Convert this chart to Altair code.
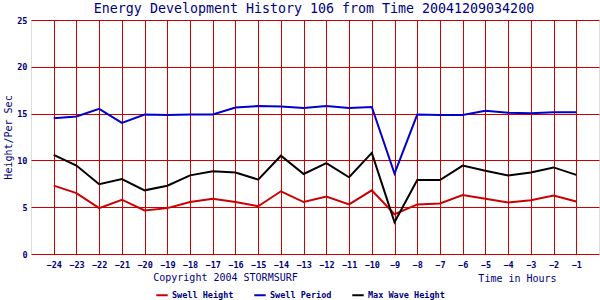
import altair as alt
import pandas as pd

hours = [-24, -23, -22, -21, -20, -19, -18, -17, -16, -15, -14, -13,
         -12, -11, -10, -9, -8, -7, -6, -5, -4, -3, -2, -1]
swell_height = [7.3, 6.5, 4.9, 5.8, 4.65, 4.9, 5.55, 5.9, 5.55, 5.1, 6.7, 5.55,
                6.15, 5.3, 6.8, 4.25, 5.3, 5.4, 6.3, 5.9, 5.5, 5.75, 6.25, 5.6]
swell_period = [14.5, 14.7, 15.5, 14.0, 14.9, 14.85, 14.9, 14.9, 15.65, 15.8, 15.75, 15.6,
                15.8, 15.6, 15.7, 8.6, 14.9, 14.85, 14.85, 15.3, 15.1, 15.05, 15.15, 15.15]
max_wave = [10.6, 9.45, 7.45, 8.0, 6.8, 7.3, 8.4, 8.85, 8.7, 7.95, 10.5, 8.55,
            9.7, 8.2, 10.8, 3.4, 7.9, 7.9, 9.45, 8.9, 8.4, 8.7, 9.25, 8.45]
series_names = ["Swell Height", "Swell Period", "Max Wave Height"]
series_colors = ["#cc0000", "#0000cc", "#000000"]
x_ticks = list(range(-24, 0))
y_ticks = [0, 5, 10, 15, 20, 25]
title_text = "Energy Development History 106 from Time 20041209034200"
copyright_str = "Copyright 2004 STORMSURF"

rows = []
for name, vals in zip(series_names, [swell_height, swell_period, max_wave]):
    for h, v in zip(hours, vals):
        rows.append({"hour": h, "value": v, "series": name})
df = pd.DataFrame(rows)

NAVY = "#000080"
GRID = "#cc0000"
MONO = "DejaVu Sans Mono"

lines = alt.Chart(df).mark_line(strokeWidth=2, clip=True).encode(
    x=alt.X("hour:Q",
            scale=alt.Scale(domain=[-25, 0], nice=False, zero=False),
            axis=alt.Axis(values=x_ticks, grid=True, gridColor=GRID, gridWidth=1, gridOpacity=1,
                          domain=False, ticks=False, labelFont=MONO, labelFontSize=8.5,
                          labelFontWeight="bold", labelColor=NAVY, labelPadding=6,
                          labelOverlap=False, labelFlush=False,
                          title="Time in Hours", titleFont=MONO, titleFontSize=10,
                          titleFontWeight="normal", titleColor=NAVY,
                          titleX=486, titleY=27, titleAlign="center",
                          titleBaseline="alphabetic")),
    y=alt.Y("value:Q",
            scale=alt.Scale(domain=[0, 25], nice=False),
            axis=alt.Axis(values=y_ticks, grid=True, gridColor=GRID, gridWidth=1, gridOpacity=1,
                          domain=False, ticks=False, labelFont=MONO, labelFontSize=8.5,
                          labelFontWeight="bold", labelColor=NAVY, labelPadding=4,
                          title="Height/Per Sec", titleFont=MONO, titleFontSize=10,
                          titleFontWeight="normal", titleColor=NAVY, titlePadding=3)),
    color=alt.Color("series:N",
                    scale=alt.Scale(domain=series_names, range=series_colors),
                    legend=alt.Legend(orient="none", direction="horizontal",
                                      legendX=124, legendY=268, title=None,
                                      symbolType="stroke", symbolSize=130,
                                      symbolStrokeWidth=3, labelFont=MONO,
                                      labelFontSize=8.5, labelFontWeight="bold",
                                      labelColor=NAVY, labelOffset=3,
                                      columnPadding=16, padding=0)),
    strokeWidth=alt.StrokeWidth("series:N",
                                scale=alt.Scale(domain=series_names, range=[2, 2, 1.5]),
                                legend=None),
)

copyright_mark = alt.Chart(alt.Data(values=[{}])).mark_text(
    text=copyright_str, font=MONO, fontSize=10, color=NAVY,
    align="center", baseline="alphabetic", clip=False
).encode(x=alt.value(194.5), y=alt.value(261))

title_mark = alt.Chart(alt.Data(values=[{}])).mark_text(
    text=title_text, font=MONO, fontSize=13.3, color=NAVY,
    align="center", baseline="alphabetic", clip=False
).encode(x=alt.value(283), y=alt.value(-7))

chart = alt.layer(lines, copyright_mark, title_mark).properties(
    width=568, height=234,
    autosize=alt.AutoSizeParams(type="none"),
    padding={"left": 31, "top": 20, "right": 1, "bottom": 46},
).configure_view(stroke=GRID, strokeWidth=1.5, fill="white").configure(background="white")

chart.save("out.html", embed_options={"renderer": "svg", "actions": False})
